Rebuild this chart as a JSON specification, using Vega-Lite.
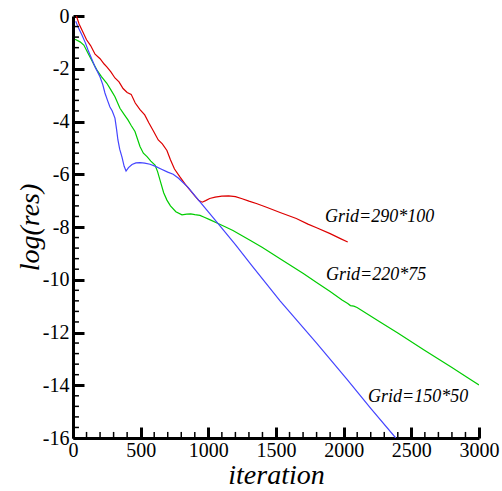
{
  "$schema": "https://vega.github.io/schema/vega-lite/v6.json",
  "autosize": "none",
  "width": 406,
  "height": 422,
  "padding": {"left": 73, "top": 16, "right": 23, "bottom": 53},
  "background": "white",
  "config": {
    "view": {"stroke": null},
    "axis": {"grid": false, "domainColor": "black", "domainWidth": 3, "tickColor": "black", "tickWidth": 3,
             "tickSize": -11, "labelFont": "Liberation Serif", "labelFontSize": 20, "labelColor": "black",
             "labelFlush": false, "labelOverlap": false, "titleFont": "Liberation Serif", "titleFontStyle": "italic",
             "titleFontWeight": "normal", "titleFontSize": 28, "titleColor": "black"}
  },
  "layer": [
    {
      "data": {"values": [
        {"it": 25, "res": 0.0, "grid": "290*100"},
        {"it": 45, "res": -0.3, "grid": "290*100"},
        {"it": 66, "res": -0.53, "grid": "290*100"},
        {"it": 100, "res": -0.9, "grid": "290*100"},
        {"it": 130, "res": -1.12, "grid": "290*100"},
        {"it": 163, "res": -1.45, "grid": "290*100"},
        {"it": 200, "res": -1.62, "grid": "290*100"},
        {"it": 230, "res": -1.82, "grid": "290*100"},
        {"it": 250, "res": -1.93, "grid": "290*100"},
        {"it": 280, "res": -2.12, "grid": "290*100"},
        {"it": 310, "res": -2.35, "grid": "290*100"},
        {"it": 340, "res": -2.5, "grid": "290*100"},
        {"it": 370, "res": -2.75, "grid": "290*100"},
        {"it": 400, "res": -2.9, "grid": "290*100"},
        {"it": 430, "res": -2.97, "grid": "290*100"},
        {"it": 460, "res": -3.3, "grid": "290*100"},
        {"it": 495, "res": -3.55, "grid": "290*100"},
        {"it": 530, "res": -3.75, "grid": "290*100"},
        {"it": 560, "res": -4.05, "grid": "290*100"},
        {"it": 593, "res": -4.35, "grid": "290*100"},
        {"it": 630, "res": -4.7, "grid": "290*100"},
        {"it": 660, "res": -4.85, "grid": "290*100"},
        {"it": 694, "res": -5.1, "grid": "290*100"},
        {"it": 720, "res": -5.45, "grid": "290*100"},
        {"it": 750, "res": -5.8, "grid": "290*100"},
        {"it": 790, "res": -6.1, "grid": "290*100"},
        {"it": 830, "res": -6.38, "grid": "290*100"},
        {"it": 865, "res": -6.6, "grid": "290*100"},
        {"it": 900, "res": -6.82, "grid": "290*100"},
        {"it": 930, "res": -7.0, "grid": "290*100"},
        {"it": 955, "res": -7.06, "grid": "290*100"},
        {"it": 980, "res": -7.0, "grid": "290*100"},
        {"it": 1010, "res": -6.92, "grid": "290*100"},
        {"it": 1050, "res": -6.87, "grid": "290*100"},
        {"it": 1100, "res": -6.83, "grid": "290*100"},
        {"it": 1150, "res": -6.82, "grid": "290*100"},
        {"it": 1200, "res": -6.85, "grid": "290*100"},
        {"it": 1250, "res": -6.93, "grid": "290*100"},
        {"it": 1300, "res": -7.02, "grid": "290*100"},
        {"it": 1360, "res": -7.12, "grid": "290*100"},
        {"it": 1430, "res": -7.25, "grid": "290*100"},
        {"it": 1530, "res": -7.45, "grid": "290*100"},
        {"it": 1650, "res": -7.68, "grid": "290*100"},
        {"it": 1736, "res": -7.89, "grid": "290*100"},
        {"it": 1800, "res": -8.03, "grid": "290*100"},
        {"it": 1900, "res": -8.25, "grid": "290*100"},
        {"it": 1980, "res": -8.45, "grid": "290*100"},
        {"it": 2030, "res": -8.57, "grid": "290*100"},

        {"it": 15, "res": -0.88, "grid": "220*75"},
        {"it": 52, "res": -0.98, "grid": "220*75"},
        {"it": 80, "res": -1.1, "grid": "220*75"},
        {"it": 111, "res": -1.41, "grid": "220*75"},
        {"it": 140, "res": -1.7, "grid": "220*75"},
        {"it": 177, "res": -2.05, "grid": "220*75"},
        {"it": 210, "res": -2.3, "grid": "220*75"},
        {"it": 250, "res": -2.55, "grid": "220*75"},
        {"it": 280, "res": -2.8, "grid": "220*75"},
        {"it": 310, "res": -3.06, "grid": "220*75"},
        {"it": 347, "res": -3.5, "grid": "220*75"},
        {"it": 380, "res": -3.75, "grid": "220*75"},
        {"it": 406, "res": -3.94, "grid": "220*75"},
        {"it": 430, "res": -4.15, "grid": "220*75"},
        {"it": 458, "res": -4.38, "grid": "220*75"},
        {"it": 495, "res": -4.95, "grid": "220*75"},
        {"it": 520, "res": -5.2, "grid": "220*75"},
        {"it": 547, "res": -5.33, "grid": "220*75"},
        {"it": 575, "res": -5.5, "grid": "220*75"},
        {"it": 606, "res": -5.65, "grid": "220*75"},
        {"it": 625, "res": -5.9, "grid": "220*75"},
        {"it": 643, "res": -6.22, "grid": "220*75"},
        {"it": 670, "res": -6.7, "grid": "220*75"},
        {"it": 694, "res": -6.98, "grid": "220*75"},
        {"it": 720, "res": -7.2, "grid": "220*75"},
        {"it": 760, "res": -7.42, "grid": "220*75"},
        {"it": 805, "res": -7.54, "grid": "220*75"},
        {"it": 840, "res": -7.51, "grid": "220*75"},
        {"it": 870, "res": -7.5, "grid": "220*75"},
        {"it": 900, "res": -7.53, "grid": "220*75"},
        {"it": 938, "res": -7.56, "grid": "220*75"},
        {"it": 970, "res": -7.63, "grid": "220*75"},
        {"it": 1010, "res": -7.72, "grid": "220*75"},
        {"it": 1064, "res": -7.85, "grid": "220*75"},
        {"it": 1120, "res": -7.98, "grid": "220*75"},
        {"it": 1182, "res": -8.13, "grid": "220*75"},
        {"it": 1240, "res": -8.3, "grid": "220*75"},
        {"it": 1308, "res": -8.5, "grid": "220*75"},
        {"it": 1400, "res": -8.78, "grid": "220*75"},
        {"it": 1530, "res": -9.2, "grid": "220*75"},
        {"it": 1600, "res": -9.43, "grid": "220*75"},
        {"it": 1702, "res": -9.76, "grid": "220*75"},
        {"it": 1800, "res": -10.1, "grid": "220*75"},
        {"it": 1900, "res": -10.45, "grid": "220*75"},
        {"it": 1988, "res": -10.77, "grid": "220*75"},
        {"it": 2030, "res": -10.9, "grid": "220*75"},
        {"it": 2050, "res": -10.98, "grid": "220*75"},
        {"it": 2075, "res": -11.0, "grid": "220*75"},
        {"it": 2099, "res": -11.05, "grid": "220*75"},
        {"it": 2269, "res": -11.6, "grid": "220*75"},
        {"it": 2400, "res": -12.02, "grid": "220*75"},
        {"it": 2600, "res": -12.68, "grid": "220*75"},
        {"it": 2800, "res": -13.33, "grid": "220*75"},
        {"it": 2911, "res": -13.7, "grid": "220*75"},
        {"it": 3000, "res": -13.99, "grid": "220*75"},

        {"it": 20, "res": -0.2, "grid": "150*50"},
        {"it": 40, "res": -0.45, "grid": "150*50"},
        {"it": 66, "res": -0.72, "grid": "150*50"},
        {"it": 90, "res": -1.0, "grid": "150*50"},
        {"it": 111, "res": -1.29, "grid": "150*50"},
        {"it": 140, "res": -1.65, "grid": "150*50"},
        {"it": 163, "res": -1.93, "grid": "150*50"},
        {"it": 180, "res": -2.1, "grid": "150*50"},
        {"it": 200, "res": -2.31, "grid": "150*50"},
        {"it": 220, "res": -2.6, "grid": "150*50"},
        {"it": 236, "res": -2.92, "grid": "150*50"},
        {"it": 255, "res": -3.2, "grid": "150*50"},
        {"it": 273, "res": -3.45, "grid": "150*50"},
        {"it": 290, "res": -3.6, "grid": "150*50"},
        {"it": 310, "res": -3.87, "grid": "150*50"},
        {"it": 322, "res": -4.3, "grid": "150*50"},
        {"it": 332, "res": -4.7, "grid": "150*50"},
        {"it": 345, "res": -5.05, "grid": "150*50"},
        {"it": 362, "res": -5.35, "grid": "150*50"},
        {"it": 378, "res": -5.7, "grid": "150*50"},
        {"it": 392, "res": -5.88, "grid": "150*50"},
        {"it": 410, "res": -5.75, "grid": "150*50"},
        {"it": 436, "res": -5.63, "grid": "150*50"},
        {"it": 465, "res": -5.57, "grid": "150*50"},
        {"it": 495, "res": -5.56, "grid": "150*50"},
        {"it": 530, "res": -5.58, "grid": "150*50"},
        {"it": 569, "res": -5.62, "grid": "150*50"},
        {"it": 610, "res": -5.7, "grid": "150*50"},
        {"it": 650, "res": -5.8, "grid": "150*50"},
        {"it": 700, "res": -5.92, "grid": "150*50"},
        {"it": 740, "res": -6.0, "grid": "150*50"},
        {"it": 780, "res": -6.15, "grid": "150*50"},
        {"it": 850, "res": -6.5, "grid": "150*50"},
        {"it": 920, "res": -6.93, "grid": "150*50"},
        {"it": 1000, "res": -7.43, "grid": "150*50"},
        {"it": 1086, "res": -7.96, "grid": "150*50"},
        {"it": 1200, "res": -8.67, "grid": "150*50"},
        {"it": 1323, "res": -9.47, "grid": "150*50"},
        {"it": 1530, "res": -10.8, "grid": "150*50"},
        {"it": 1800, "res": -12.4, "grid": "150*50"},
        {"it": 2025, "res": -13.78, "grid": "150*50"},
        {"it": 2200, "res": -14.88, "grid": "150*50"},
        {"it": 2385, "res": -16.0, "grid": "150*50"}
      ]},
      "mark": {"type": "line", "strokeWidth": 1.2, "clip": true},
      "encoding": {
        "x": {"field": "it", "type": "quantitative",
              "scale": {"domain": [0, 3000], "nice": false, "zero": false},
              "axis": {"values": [0, 500, 1000, 1500, 2000, 2500, 3000], "title": "iteration",
                       "labelExpr": "'' + datum.value", "labelPadding": 13, "titlePadding": 1}},
        "y": {"field": "res", "type": "quantitative",
              "scale": {"domain": [-16, 0], "nice": false, "zero": false},
              "axis": {"values": [-16, -14, -12, -10, -8, -6, -4, -2, 0], "title": "log(res)",
                       "labelExpr": "'' + datum.value", "labelPadding": 15, "titlePadding": -2}},
        "color": {"field": "grid", "type": "nominal",
                  "scale": {"domain": ["290*100", "220*75", "150*50"], "range": ["#dd0000", "#00cc00", "#4444ff"]},
                  "legend": null}
      }
    },
    {
      "data": {"values": [
        {"it": 1862, "res": -7.81, "label": "Grid=290*100"},
        {"it": 1870, "res": -10.01, "label": "Grid=220*75"},
        {"it": 2180, "res": -14.64, "label": "Grid=150*50"}
      ]},
      "mark": {"type": "text", "align": "left", "baseline": "alphabetic", "font": "Liberation Serif",
               "fontStyle": "italic", "fontSize": 18, "color": "black"},
      "encoding": {
        "x": {"field": "it", "type": "quantitative", "axis": {"title": "iteration"}},
        "y": {"field": "res", "type": "quantitative", "axis": {"title": "log(res)"}},
        "text": {"field": "label", "type": "nominal"}
      }
    },
    {
      "data": {"values": [
        {"it": 100}, {"it": 200}, {"it": 300}, {"it": 400}, {"it": 600}, {"it": 700}, {"it": 800}, {"it": 900},
        {"it": 1100}, {"it": 1200}, {"it": 1300}, {"it": 1400}, {"it": 1600}, {"it": 1700}, {"it": 1800}, {"it": 1900},
        {"it": 2100}, {"it": 2200}, {"it": 2300}, {"it": 2400}, {"it": 2600}, {"it": 2700}, {"it": 2800}, {"it": 2900}
      ]},
      "mark": {"type": "rule", "color": "black", "strokeWidth": 1.5},
      "encoding": {
        "x": {"field": "it", "type": "quantitative", "axis": {"title": "iteration"}},
        "y": {"datum": -16, "type": "quantitative", "axis": {"title": "log(res)"}},
        "y2": {"datum": -15.77}
      }
    },
    {
      "data": {"values": [
        {"res": -15.6}, {"res": -15.2}, {"res": -14.8}, {"res": -14.4}, {"res": -13.6}, {"res": -13.2}, {"res": -12.8}, {"res": -12.4},
        {"res": -11.6}, {"res": -11.2}, {"res": -10.8}, {"res": -10.4}, {"res": -9.6}, {"res": -9.2}, {"res": -8.8}, {"res": -8.4},
        {"res": -7.6}, {"res": -7.2}, {"res": -6.8}, {"res": -6.4}, {"res": -5.6}, {"res": -5.2}, {"res": -4.8}, {"res": -4.4},
        {"res": -3.6}, {"res": -3.2}, {"res": -2.8}, {"res": -2.4}, {"res": -1.6}, {"res": -1.2}, {"res": -0.8}, {"res": -0.4}
      ]},
      "mark": {"type": "rule", "color": "black", "strokeWidth": 1.5},
      "encoding": {
        "y": {"field": "res", "type": "quantitative", "axis": {"title": "log(res)"}},
        "x": {"datum": 0, "type": "quantitative", "axis": {"title": "iteration"}},
        "x2": {"datum": 44}
      }
    }
  ]
}
